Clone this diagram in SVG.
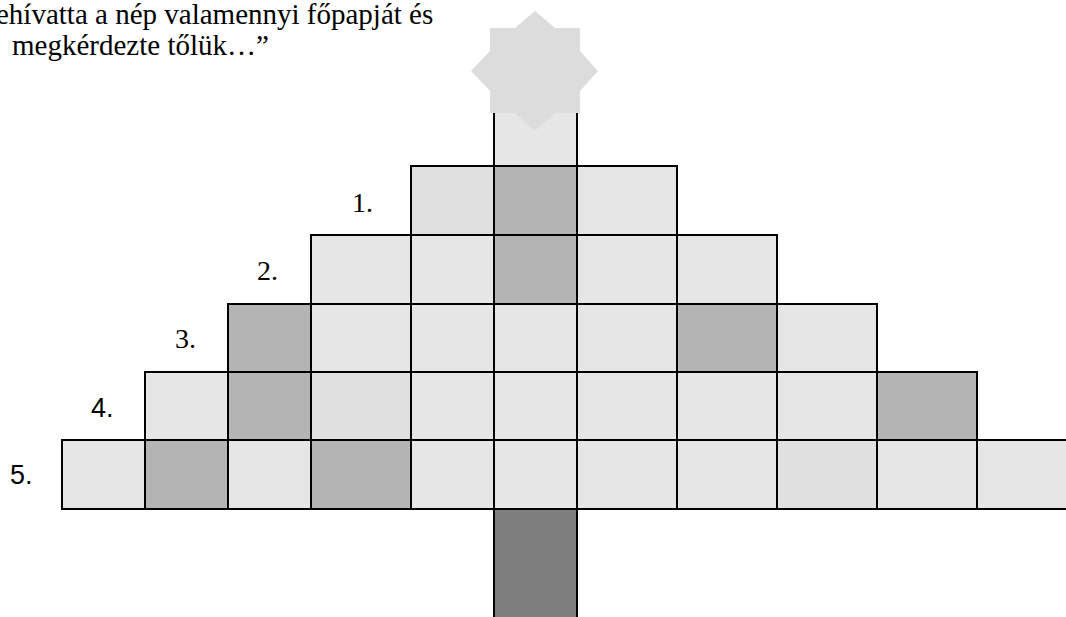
<svg xmlns="http://www.w3.org/2000/svg" width="1066" height="617" viewBox="0 0 1066 617">
<style>
.t{font-family:"Liberation Serif","Times New Roman",serif;font-size:28px;fill:#000}
.cap{font-size:29px}
.s{font-family:"Liberation Sans",Arial,sans-serif;font-size:27px;fill:#000}
.c{stroke:#000;stroke-width:2}
.l{fill:#e6e6e6}
.m{fill:#e0e0e0}
.d{fill:#b4b4b4}
</style>
<rect width="1066" height="617" fill="#fff"/>
<g id="caption">
<text class="t cap" x="-4" y="24">ehívatta a nép valamennyi főpapját és</text>
<text class="t cap" x="12" y="55">megkérdezte tőlük…”</text>
</g>
<g id="treetop">
<rect x="494" y="110" width="83" height="56" fill="#e6e6e6"/>
<polygon fill="#dcdcdc" points="535,11 555,28 580,28 580,51 598,71 580,91 580,113 555,113 535,131 515,113 490,113 490,91 471,71 490,51 490,28 515,28"/>
<line x1="494" y1="113" x2="494" y2="166" stroke="#000" stroke-width="2"/>
<line x1="577" y1="113" x2="577" y2="166" stroke="#000" stroke-width="2"/>
</g>
<g id="trunk">
<rect x="494" y="509" width="83" height="110" fill="#7f7f7f" class="c"/>
</g>
<g id="row1">
<rect class="c m" x="411" y="166" width="83" height="69"/>
<rect class="c d" x="494" y="166" width="83" height="69"/>
<rect class="c l" x="577" y="166" width="100" height="69"/>
</g>
<g id="row2">
<rect class="c l" x="311" y="235" width="100" height="69"/>
<rect class="c l" x="411" y="235" width="83" height="69"/>
<rect class="c d" x="494" y="235" width="83" height="69"/>
<rect class="c l" x="577" y="235" width="100" height="69"/>
<rect class="c l" x="677" y="235" width="100" height="69"/>
</g>
<g id="row3">
<rect class="c d" x="228" y="304" width="83" height="68"/>
<rect class="c l" x="311" y="304" width="100" height="68"/>
<rect class="c l" x="411" y="304" width="83" height="68"/>
<rect class="c l" x="494" y="304" width="83" height="68"/>
<rect class="c l" x="577" y="304" width="100" height="68"/>
<rect class="c d" x="677" y="304" width="100" height="68"/>
<rect class="c l" x="777" y="304" width="100" height="68"/>
</g>
<g id="row4">
<rect class="c l" x="145" y="372" width="83" height="68"/>
<rect class="c d" x="228" y="372" width="83" height="68"/>
<rect class="c m" x="311" y="372" width="100" height="68"/>
<rect class="c l" x="411" y="372" width="83" height="68"/>
<rect class="c l" x="494" y="372" width="83" height="68"/>
<rect class="c l" x="577" y="372" width="100" height="68"/>
<rect class="c l" x="677" y="372" width="100" height="68"/>
<rect class="c l" x="777" y="372" width="100" height="68"/>
<rect class="c d" x="877" y="372" width="100" height="68"/>
</g>
<g id="row5">
<rect class="c l" x="62" y="440" width="83" height="69"/>
<rect class="c d" x="145" y="440" width="83" height="69"/>
<rect class="c l" x="228" y="440" width="83" height="69"/>
<rect class="c d" x="311" y="440" width="100" height="69"/>
<rect class="c l" x="411" y="440" width="83" height="69"/>
<rect class="c l" x="494" y="440" width="83" height="69"/>
<rect class="c l" x="577" y="440" width="100" height="69"/>
<rect class="c l" x="677" y="440" width="100" height="69"/>
<rect class="c m" x="777" y="440" width="100" height="69"/>
<rect class="c l" x="877" y="440" width="100" height="69"/>
<rect class="c l" x="977" y="440" width="100" height="69"/>
</g>
<g id="labels">
<text class="t" x="352" y="212">1.</text>
<text class="t" x="257" y="280">2.</text>
<text class="t" x="175" y="348">3.</text>
<text class="s" x="91" y="417">4.</text>
<text class="s" x="10" y="484">5.</text>
</g>
</svg>
